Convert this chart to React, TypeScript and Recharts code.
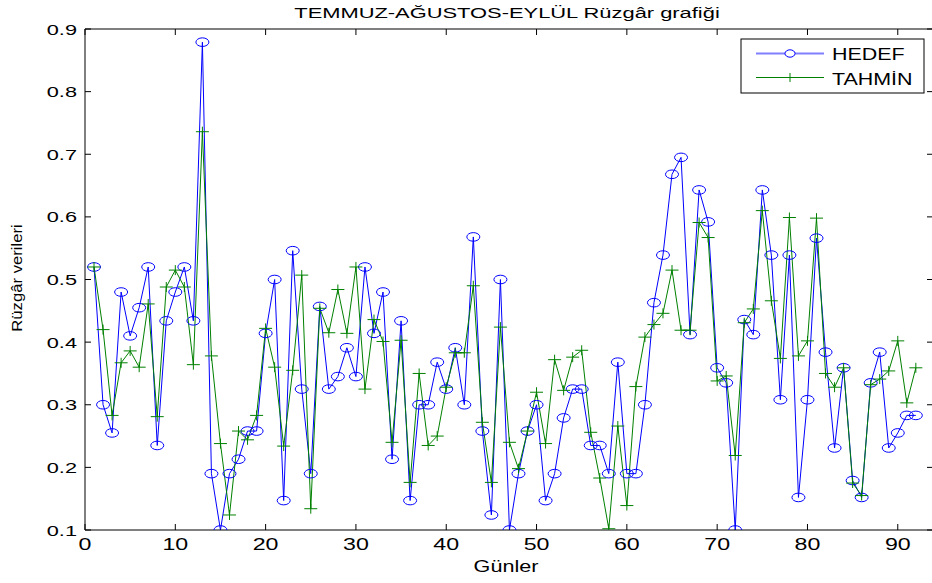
import React from 'react';
import { LineChart, Line, XAxis, YAxis, ReferenceLine } from 'recharts';

// günlük değerler (1..92)
const HEDEF = [
  0.52, 0.3, 0.255, 0.48, 0.41, 0.455, 0.52, 0.235, 0.434, 0.48,
  0.52, 0.434, 0.879, 0.19, 0.1, 0.19, 0.213, 0.258, 0.258, 0.414,
  0.5, 0.147, 0.546, 0.325, 0.19, 0.457, 0.325, 0.345, 0.391, 0.345,
  0.52, 0.414, 0.48, 0.213, 0.434, 0.147, 0.3, 0.3, 0.368, 0.325,
  0.391, 0.3, 0.568, 0.258, 0.124, 0.5, 0.1, 0.19, 0.258, 0.3,
  0.147, 0.19, 0.279, 0.325, 0.325, 0.235, 0.235, 0.19, 0.368, 0.19,
  0.19, 0.3, 0.463, 0.539, 0.668, 0.695, 0.412, 0.643, 0.592, 0.359,
  0.335, 0.1, 0.436, 0.412, 0.643, 0.539, 0.308, 0.539, 0.152, 0.308,
  0.566, 0.384, 0.231, 0.359, 0.179, 0.152, 0.335, 0.384, 0.231, 0.255,
  0.283, 0.283,
];

const TAHMIN = [
  0.52, 0.42, 0.283, 0.367, 0.386, 0.36, 0.461, 0.281, 0.488, 0.515,
  0.488, 0.364, 0.736, 0.378, 0.238, 0.124, 0.258, 0.244, 0.283, 0.422,
  0.36, 0.234, 0.355, 0.507, 0.134, 0.454, 0.415, 0.484, 0.414, 0.52,
  0.325, 0.436, 0.401, 0.24, 0.403, 0.176, 0.35, 0.235, 0.25, 0.328,
  0.383, 0.383, 0.49, 0.272, 0.176, 0.424, 0.24, 0.198, 0.258, 0.32,
  0.238, 0.372, 0.323, 0.376, 0.387, 0.256, 0.183, 0.102, 0.266, 0.139,
  0.329, 0.408, 0.428, 0.446, 0.515, 0.419, 0.419, 0.591, 0.567, 0.338,
  0.346, 0.219, 0.431, 0.453, 0.61, 0.466, 0.374, 0.599, 0.378, 0.402,
  0.598, 0.35, 0.328, 0.359, 0.175, 0.155, 0.332, 0.341, 0.354, 0.402,
  0.303, 0.359,
];

const X_TICKS = [0, 10, 20, 30, 40, 50, 60, 70, 80, 90];
const Y_TICKS = [0.1, 0.2, 0.3, 0.4, 0.5, 0.6, 0.7, 0.8, 0.9];

const BLUE = '#0000ff';
const GREEN = '#008000';
const FONT = '"Liberation Sans", Arial, sans-serif';

const X_MAX = 93.9;
const PLOT_LEFT = 85;
const PLOT_RIGHT = 933;
const PLOT_TOP = 29;
const PLOT_BOTTOM = 530;
const TICK_LEN = 6;

const rows = HEDEF.map((h, i) => ({ gun: i + 1, hedef: h, tahmin: TAHMIN[i] }));

function XTick(props: any) {
  const { x, payload } = props;
  return (
    <g>
      <line x1={x} x2={x} y1={PLOT_BOTTOM} y2={PLOT_BOTTOM - TICK_LEN} stroke="#000" />
      <line x1={x} x2={x} y1={PLOT_TOP} y2={PLOT_TOP + TICK_LEN} stroke="#000" />
      <text transform={`translate(${x},${PLOT_BOTTOM + 20}) scale(1.45,1)`} textAnchor="middle"
        fontSize={16} fontFamily={FONT} fill="#000">{payload.value}</text>
    </g>
  );
}

function YTick(props: any) {
  const { y, payload } = props;
  return (
    <g>
      <line x1={PLOT_LEFT} x2={PLOT_LEFT + TICK_LEN} y1={y} y2={y} stroke="#000" />
      <line x1={PLOT_RIGHT - TICK_LEN} x2={PLOT_RIGHT} y1={y} y2={y} stroke="#000" />
      <text transform={`translate(77,${y + 5.5}) scale(1.45,1)`} textAnchor="end"
        fontSize={15} fontFamily={FONT} fill="#000">{Number(payload.value).toFixed(1)}</text>
    </g>
  );
}

function CircleDot(props: any) {
  const { cx, cy, index } = props;
  if (cx == null || cy == null) return <g key={index} />;
  return <ellipse key={index} cx={cx} cy={cy} rx={6.5} ry={4.3} fill="none" stroke={BLUE} strokeWidth={1} />;
}

function PlusDot(props: any) {
  const { cx, cy, index } = props;
  if (cx == null || cy == null) return <g key={index} />;
  return (
    <g key={index}>
      <line x1={cx - 6.5} x2={cx + 6.5} y1={cy} y2={cy} stroke={GREEN} strokeWidth={1} />
      <line x1={cx} x2={cx} y1={cy - 5} y2={cy + 5} stroke={GREEN} strokeWidth={1} />
    </g>
  );
}

export default function App() {
  return (
    <div style={{ position: 'absolute', left: 0, top: 0, width: 932, height: 583, overflow: 'hidden', background: '#fff' }}>
      <LineChart width={934} height={583} data={rows} margin={{ top: PLOT_TOP, right: 1, left: 0, bottom: 0 }}>
        <XAxis dataKey="gun" type="number" domain={[0, X_MAX]} ticks={X_TICKS} height={53}
          tick={<XTick />} tickLine={false} axisLine={{ stroke: '#000' }} allowDataOverflow />
        <YAxis type="number" domain={[0.1, 0.9]} ticks={Y_TICKS} width={85}
          tick={<YTick />} tickLine={false} axisLine={{ stroke: '#000' }} allowDataOverflow />
        <ReferenceLine y={0.9} stroke="#000" />
        <ReferenceLine x={X_MAX} stroke="#000" />
        <Line dataKey="hedef" stroke={BLUE} strokeWidth={1} dot={CircleDot} activeDot={false} isAnimationActive={false} />
        <Line dataKey="tahmin" stroke={GREEN} strokeWidth={1} dot={PlusDot} activeDot={false} isAnimationActive={false} />
      </LineChart>

      <svg width={932} height={583} style={{ position: 'absolute', left: 0, top: 0, pointerEvents: 'none' }}>
        <text transform="translate(507,17.5) scale(1.46,1)" textAnchor="middle" fontSize={15} fontFamily={FONT} fill="#000">
          TEMMUZ-AĞUSTOS-EYLÜL Rüzgâr grafiği
        </text>
        <text transform="translate(506,572) scale(1.35,1)" textAnchor="middle" fontSize={16} fontFamily={FONT} fill="#000">
          Günler
        </text>
        <text transform="translate(22,278) rotate(-90) scale(1.19,1)" textAnchor="middle" fontSize={14} fontFamily={FONT} fill="#000">
          Rüzgâr verileri
        </text>

        {/* legend */}
        <rect x={741} y={39} width={183} height={54} fill="#fff" stroke="#000" strokeWidth={1} />
        <line x1={756} x2={824} y1={53.5} y2={53.5} stroke={BLUE} strokeOpacity={0.5} strokeWidth={2} />
        <ellipse cx={790} cy={53.5} rx={5} ry={3.7} fill="#fff" stroke={BLUE} />
        <text transform="translate(832,59.5) scale(1.34,1)" fontSize={16} fontFamily={FONT} fill="#000">HEDEF</text>
        <line x1={756} x2={824} y1={77.5} y2={77.5} stroke={GREEN} strokeWidth={1} />
        <line x1={790} x2={790} y1={73} y2={82} stroke={GREEN} />
        <text transform="translate(832,85) scale(1.34,1)" fontSize={16} fontFamily={FONT} fill="#000">TAHMİN</text>
      </svg>
    </div>
  );
}
